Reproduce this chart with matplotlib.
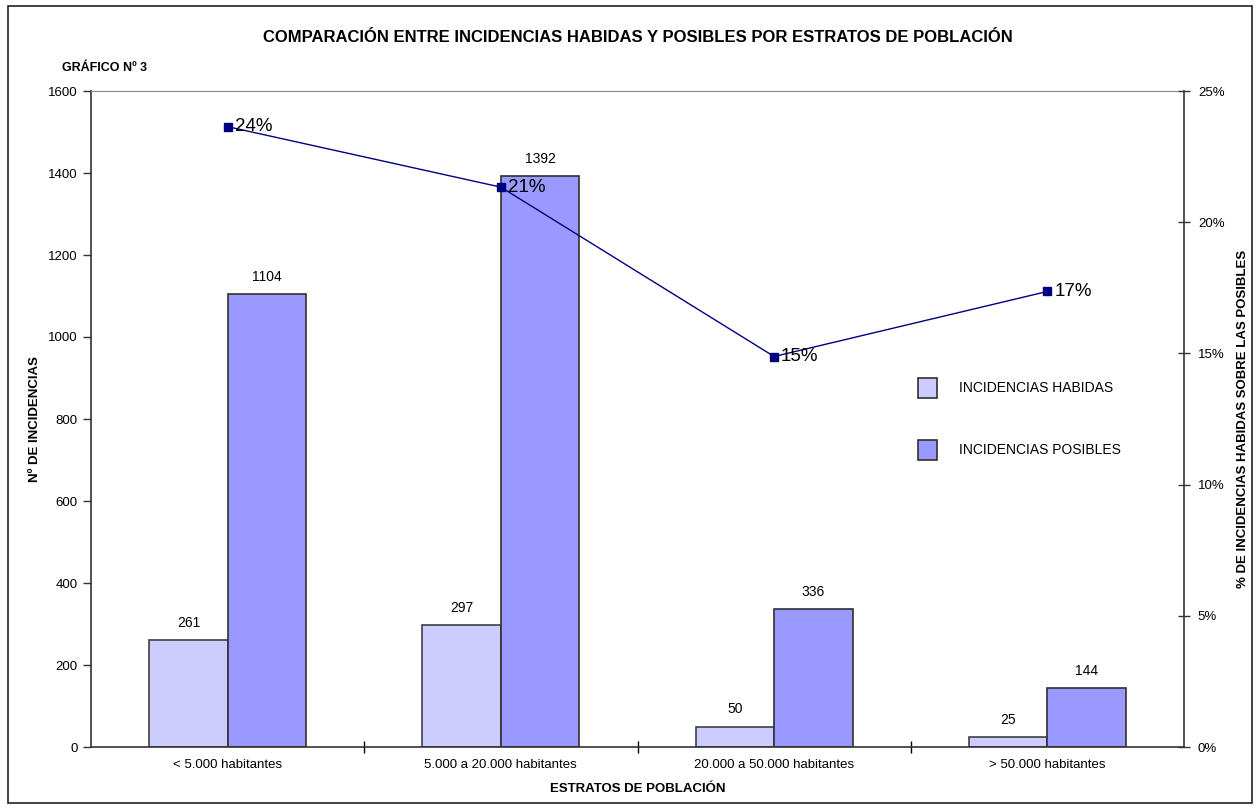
import matplotlib
matplotlib.use("Agg")
import matplotlib.pyplot as plt
from matplotlib.patches import Rectangle, Patch
import numpy as np

categories = ["< 5.000 habitantes", "5.000 a 20.000 habitantes",
              "20.000 a 50.000 habitantes", "> 50.000 habitantes"]
habidas = [261, 297, 50, 25]
posibles = [1104, 1392, 336, 144]
pct = [h / p * 100 for h, p in zip(habidas, posibles)]
pct_labels = ["24%", "21%", "15%", "17%"]

plt.rcParams['font.family'] = ['Liberation Sans', 'DejaVu Sans']

W, H = 1259, 809
fig = plt.figure(figsize=(W / 100, H / 100), dpi=100)
L, R, T, B = 91, 1184, 91, 747
ax = fig.add_axes([L / W, 1 - B / H, (R - L) / W, (B - T) / H])

x = np.arange(len(categories))
bw = 0.287
c_hab = "#CCCCFF"
c_pos = "#9999FF"
ax.bar(x - bw / 2, habidas, bw, color=c_hab, edgecolor="#404040", linewidth=1.2, zorder=2)
ax.bar(x + bw / 2, posibles, bw, color=c_pos, edgecolor="#303030", linewidth=1.2, zorder=2)
for xi, v in zip(x, habidas):
    ax.text(xi - bw / 2, v + 25, str(v), ha="center", va="bottom", fontsize=10)
for xi, v in zip(x, posibles):
    ax.text(xi + bw / 2, v + 25, str(v), ha="center", va="bottom", fontsize=10)

ax.set_xlim(-0.5, len(categories) - 0.5)
ax.set_ylim(0, 1600)
ax.set_yticks(range(0, 1601, 200))
ax.set_xticks(x)
ax.set_xticklabels(categories, fontsize=9.5)
ax.set_xticks(np.arange(0.5, len(categories) - 0.5, 1), minor=True)
ax.tick_params(axis="x", which="major", length=0, pad=9)
ax.tick_params(axis="x", which="minor", length=8, direction="inout", width=1)
ax.tick_params(axis="y", labelsize=9.5, length=6, direction="out", width=1, color="#333333")
ax.set_ylabel("Nº DE INCIDENCIAS", fontsize=9.5, fontweight="bold")
ax.yaxis.set_label_coords((41 - L) / (R - L), 0.5)
ax.set_xlabel("ESTRATOS DE POBLACIÓN", fontsize=9.5, fontweight="bold", labelpad=8)
for s in ["left", "bottom"]:
    ax.spines[s].set_color("#333333")
    ax.spines[s].set_linewidth(1.2)
ax.spines["top"].set_color("#888888")
ax.spines["right"].set_visible(False)

ax2 = ax.twinx()
ax2.set_ylim(0, 25)
ax2.set_yticks(range(0, 26, 5))
ax2.set_yticklabels([f"{v}%" for v in range(0, 26, 5)], fontsize=9.5)
ax2.tick_params(axis="y", length=8, direction="inout", width=1, color="#333333", pad=6)
ax2.spines["right"].set_color("#333333")
ax2.spines["right"].set_linewidth(1.2)
for s in ["left", "bottom", "top"]:
    ax2.spines[s].set_visible(False)
ax2.plot(x, pct, color="#000080", linewidth=1.0, marker="s", markersize=6,
         markerfacecolor="#000080", markeredgecolor="#000080", zorder=3)
for xi, v, lab in zip(x, pct, pct_labels):
    ax2.annotate(lab, (xi, v), xytext=(5, 0), textcoords="offset points",
                 ha="left", va="center", fontsize=13.5)
ax2.set_ylabel("% DE INCIDENCIAS HABIDAS SOBRE LAS POSIBLES", fontsize=9.5,
               fontweight="bold")
ax2.yaxis.set_label_coords((1237 - L) / (R - L), 0.5)

handles = [Patch(facecolor=c_hab, edgecolor="#303030", linewidth=1.2),
           Patch(facecolor=c_pos, edgecolor="#303030", linewidth=1.2)]
fig.legend(handles, ["INCIDENCIAS HABIDAS", "INCIDENCIAS POSIBLES"],
           loc="upper left", bbox_to_anchor=(905 / W, 1 - 365 / H),
           frameon=False, fontsize=10, labelspacing=3.0, handlelength=1.4,
           handleheight=1.9, handletextpad=1.6)

fig.text(0.5 * (L + R) / W, 1 - 38 / H,
         "COMPARACIÓN ENTRE INCIDENCIAS HABIDAS Y POSIBLES POR ESTRATOS DE POBLACIÓN",
         ha="center", va="center", fontsize=12, fontweight="bold")
fig.text(62 / W, 1 - 68 / H, "GRÁFICO Nº 3", ha="left", va="center",
         fontsize=9, fontweight="bold")

fig.patches.append(Rectangle((8 / W, 1 - 803 / H), (1252 - 8) / W, (803 - 6) / H,
                             transform=fig.transFigure, fill=False,
                             edgecolor="#222222", linewidth=1.2))

fig.savefig("out.png", dpi=100)
